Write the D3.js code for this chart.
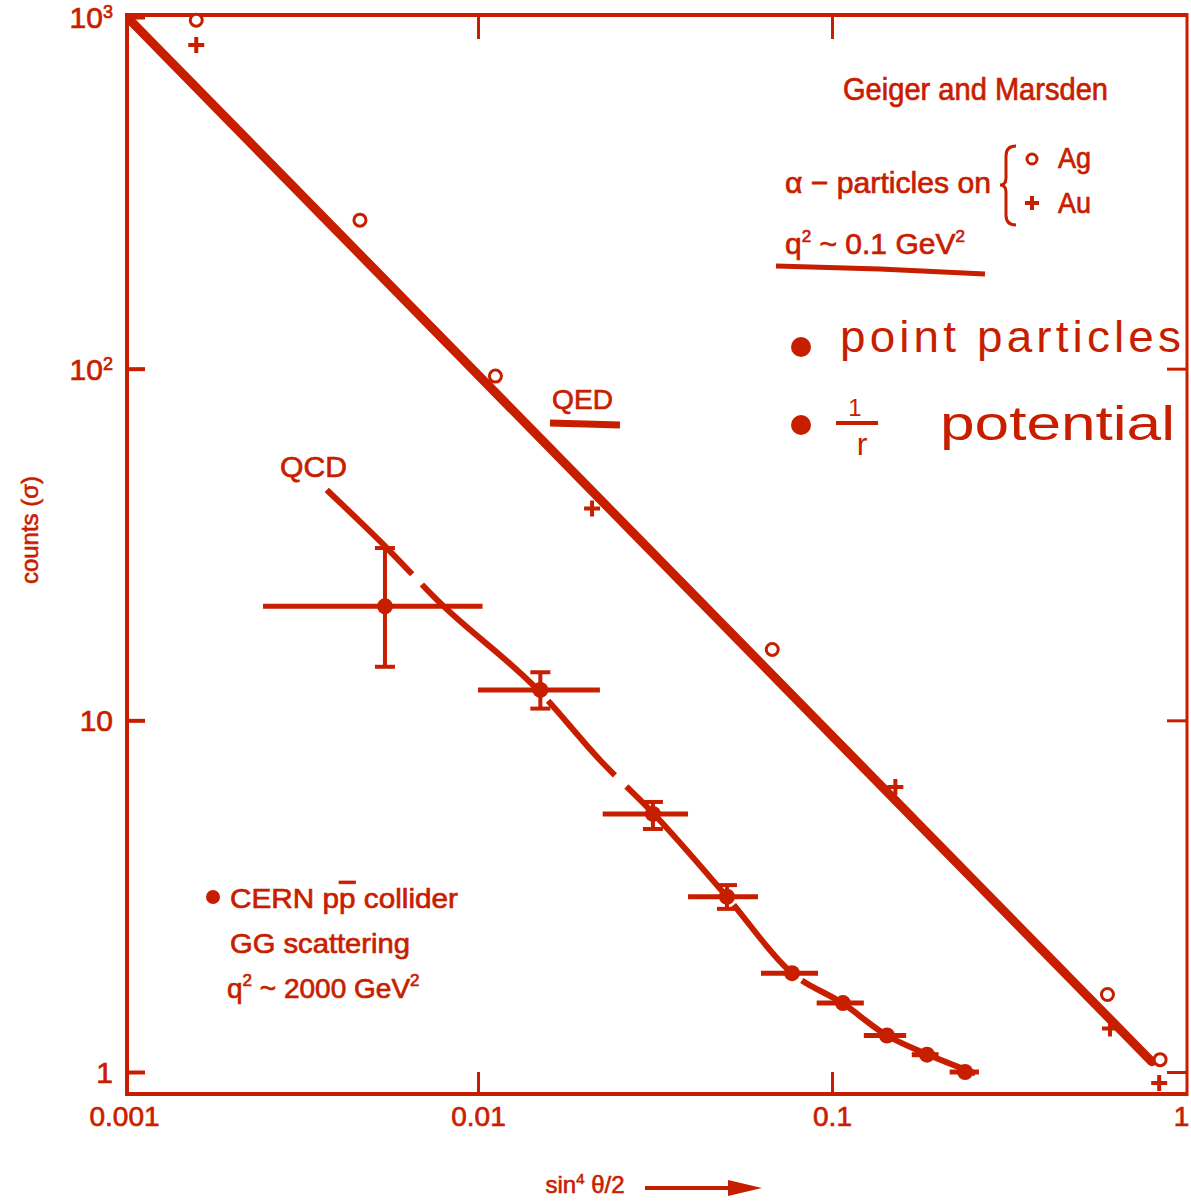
<!DOCTYPE html>
<html>
<head>
<meta charset="utf-8">
<script src="https://cdn.jsdelivr.net/npm/d3@7/dist/d3.min.js"></script>
<style>
  html, body { margin: 0; padding: 0; background: #fff; }
  svg { display: block; }
  text { font-family: "Liberation Sans", Arial, sans-serif; }
</style>
</head>
<body>
<svg id="chart" width="1191" height="1203"></svg>
<script>
// ---------------- data ----------------
const xTicks = [0.001, 0.01, 0.1, 1];
const xTickLabels = ["0.001", "0.01", "0.1", "1"];
const yTicks = [1, 10, 100, 1000];
const yTickBase = ["1", "10", "10", "10"];
const yTickExp = ["", "", "2", "3"];

// Rutherford (QED) line, Geiger & Marsden
const qedLineX = [0.00104, 0.8];
const qedLineY = [980, 1.07];
// alpha particles on Ag (open circles)
const agX = [0.0016, 0.00464, 0.0112, 0.0678, 0.60, 0.845];
const agY = [967, 261, 94, 15.7, 1.64, 1.07];
// alpha particles on Au (plus signs)
const auX = [0.0016, 0.021, 0.151, 0.61, 0.84];
const auY = [832, 40, 6.46, 1.33, 0.93];

// QCD curve
const qcdCurveX = [0.00374, 0.00553, 0.00766, 0.0150, 0.0221, 0.0312, 0.0505, 0.0771, 0.107, 0.143, 0.183, 0.254];
const qcdCurveY = [45.2, 30.9, 22.0, 12.0, 7.71, 5.45, 3.15, 1.91, 1.57, 1.27, 1.13, 0.99];

// CERN p pbar collider points (GG scattering)
const cernX   = [0.00546, 0.0150, 0.0312, 0.0505, 0.0771, 0.1074, 0.143, 0.1855, 0.2377];
const cernY   = [21.1, 12.2, 5.42, 3.15, 1.91, 1.57, 1.27, 1.12, 1.0];
const cernXlo = [0.00247, 0.0100, 0.0225, 0.0392, 0.063, 0.0905, 0.123, 0.168, 0.215];
const cernXhi = [0.0103, 0.0221, 0.0392, 0.0618, 0.0913, 0.123, 0.162, 0.200, 0.260];
const cernYlo = [14.2, 10.8, 4.91, 2.91, null, null, null, null, null];
const cernYhi = [30.9, 13.7, 5.86, 3.40, null, null, null, null, null];

// ---------------- drawing ----------------
const C = "#c81e00";
const svg = d3.select("#chart");
const x = d3.scaleLog().domain([0.001, 1]).range([124, 1186]);
const y = d3.scaleLog().domain([1, 1000]).range([1072, 17]);

const L = 127, R = 1187, T = 15, B = 1094;

// frame
svg.append("line").attr("x1", L).attr("x2", L).attr("y1", T - 2).attr("y2", B + 2).attr("stroke", C).attr("stroke-width", 4);
svg.append("line").attr("x1", L - 2).attr("x2", R).attr("y1", T).attr("y2", T).attr("stroke", C).attr("stroke-width", 4);
svg.append("line").attr("x1", R).attr("x2", R).attr("y1", T - 2).attr("y2", B + 2).attr("stroke", C).attr("stroke-width", 3);
svg.append("line").attr("x1", L - 2).attr("x2", R + 1).attr("y1", B).attr("y2", B).attr("stroke", C).attr("stroke-width", 4);

// left axis
const yAxis = d3.axisLeft(y).tickValues(yTicks).tickSize(-18).tickPadding(14).tickFormat(() => "");
const gy = svg.append("g").attr("transform", `translate(${L},0)`).call(yAxis);
gy.select(".domain").remove();
gy.selectAll(".tick line").attr("stroke", C).attr("stroke-width", 4);
gy.selectAll(".tick text").each(function(d, i) {
  const t = d3.select(this).attr("fill", C).attr("font-size", 30).attr("dy", "0.35em")
    .attr("stroke", C).attr("stroke-width", 0.7);
  t.append("tspan").text(yTickBase[i]);
  if (yTickExp[i]) t.append("tspan").attr("dy", "-0.55em").attr("font-size", 18).text(yTickExp[i]);
});
// right axis ticks
const yAxisR = d3.axisRight(y).tickValues(yTicks.slice(0, 3)).tickSize(-20).tickFormat(() => "");
const gyr = svg.append("g").attr("transform", `translate(${R},0)`).call(yAxisR);
gyr.select(".domain").remove();
gyr.selectAll(".tick line").attr("stroke", C).attr("stroke-width", 3);

// bottom axis
const xAxis = d3.axisBottom(x).tickValues(xTicks).tickSize(-22).tickPadding(12)
  .tickFormat((d, i) => xTickLabels[i]);
const gx = svg.append("g").attr("transform", `translate(0,${B})`).call(xAxis);
gx.select(".domain").remove();
gx.selectAll(".tick line").attr("stroke", C).attr("stroke-width", 3)
  .attr("opacity", (d) => (d === 0.001 || d === 1) ? 0 : 1);
gx.selectAll(".tick text").attr("fill", C).attr("font-size", 28)
  .attr("stroke", C).attr("stroke-width", 0.7)
  .attr("dx", (d) => d === 1 ? -5 : 0);
// top axis ticks
const xAxisT = d3.axisTop(x).tickValues([0.01, 0.1]).tickSize(-24).tickFormat(() => "");
const gxt = svg.append("g").attr("transform", `translate(0,${T})`).call(xAxisT);
gxt.select(".domain").remove();
gxt.selectAll(".tick line").attr("stroke", C).attr("stroke-width", 3);

// axis titles
svg.append("text").attr("x", 585).attr("y", 1193).attr("fill", C).attr("font-size", 24)
  .attr("stroke", C).attr("stroke-width", 0.6)
  .attr("text-anchor", "middle")
  .html('sin<tspan dy="-9" font-size="15">4</tspan><tspan dy="9"> θ/2</tspan>');
svg.append("line").attr("x1", 645).attr("x2", 740).attr("y1", 1188).attr("y2", 1188).attr("stroke", C).attr("stroke-width", 4);
svg.append("path").attr("d", "M728,1180 L762,1188 L728,1196 Z").attr("fill", C);

svg.append("text").attr("transform", "translate(38,530) rotate(-90)").attr("text-anchor", "middle")
  .attr("fill", C).attr("font-size", 24).attr("stroke", C).attr("stroke-width", 0.6).text("counts (σ)");

// QED line
const line = d3.line().x(d => x(d[0])).y(d => y(d[1]));
svg.append("path").datum(qedLineX.map((v, i) => [v, qedLineY[i]]))
  .attr("d", line).attr("fill", "none").attr("stroke", C).attr("stroke-width", 9).attr("stroke-linecap", "round");

// Ag circles
svg.append("g").selectAll("circle").data(agX.map((v, i) => [v, agY[i]])).join("circle")
  .attr("cx", d => x(d[0])).attr("cy", d => y(d[1]) - 2).attr("r", 6)
  .attr("fill", "#fff").attr("stroke", C).attr("stroke-width", 3);
// Au plus
svg.append("g").selectAll("path").data(auX.map((v, i) => [v, auY[i]])).join("path")
  .attr("d", d => { const cx = x(d[0]), cy = y(d[1]); return `M${cx - 8},${cy}H${cx + 8}M${cx},${cy - 8}V${cy + 8}`; })
  .attr("stroke", C).attr("stroke-width", 4).attr("fill", "none");

// QCD curve
const cline = d3.line().x(d => x(d[0])).y(d => y(d[1])).curve(d3.curveMonotoneX);
svg.append("path").datum(qcdCurveX.map((v, i) => [v, qcdCurveY[i]]))
  .attr("d", cline).attr("fill", "none").attr("stroke", C).attr("stroke-width", 6)
  .attr("stroke-dasharray", "120,14,160,12,100,16,150,10,90,12,200,10");

// CERN points with error bars
const cern = cernX.map((v, i) => ({ x: v, y: cernY[i], xl: cernXlo[i], xh: cernXhi[i], yl: cernYlo[i], yh: cernYhi[i] }));
const ge = svg.append("g");
ge.selectAll(".xe").data(cern).join("line").attr("class", "xe")
  .attr("x1", d => x(d.xl)).attr("x2", d => x(d.xh)).attr("y1", d => y(d.y)).attr("y2", d => y(d.y))
  .attr("stroke", C).attr("stroke-width", 5);
const withY = cern.filter(d => d.yl !== null);
ge.selectAll(".ye").data(withY).join("line").attr("class", "ye")
  .attr("x1", d => x(d.x)).attr("x2", d => x(d.x)).attr("y1", d => y(d.yl)).attr("y2", d => y(d.yh))
  .attr("stroke", C).attr("stroke-width", 4);
ge.selectAll(".capl").data(withY).join("line").attr("class", "capl")
  .attr("x1", d => x(d.x) - 10).attr("x2", d => x(d.x) + 10).attr("y1", d => y(d.yl)).attr("y2", d => y(d.yl))
  .attr("stroke", C).attr("stroke-width", 4);
ge.selectAll(".caph").data(withY).join("line").attr("class", "caph")
  .attr("x1", d => x(d.x) - 10).attr("x2", d => x(d.x) + 10).attr("y1", d => y(d.yh)).attr("y2", d => y(d.yh))
  .attr("stroke", C).attr("stroke-width", 4);
ge.selectAll("circle").data(cern).join("circle")
  .attr("cx", d => x(d.x)).attr("cy", d => y(d.y)).attr("r", 8).attr("fill", C);

// ---------------- annotations ----------------
function txt(xp, yp, s, size, len) {
  const t = svg.append("text").attr("x", xp).attr("y", yp).attr("fill", C).attr("font-size", size)
    .attr("stroke", C).attr("stroke-width", 0.7);
  if (len) t.attr("textLength", len).attr("lengthAdjust", "spacingAndGlyphs");
  t.html(s);
  return t;
}
txt(843, 100, "Geiger and Marsden", 31, 265);
txt(785, 193, "α − particles on", 30, 206);
// brace
svg.append("path").attr("d", "M1016,146 Q1006,146 1006,156 L1006,178 Q1006,185 1000,185 Q1006,185 1006,192 L1006,215 Q1006,225 1016,225")
  .attr("fill", "none").attr("stroke", C).attr("stroke-width", 3);
svg.append("circle").attr("cx", 1032).attr("cy", 159).attr("r", 5).attr("fill", "#fff").attr("stroke", C).attr("stroke-width", 3);
txt(1058, 168, "Ag", 29, 33);
svg.append("path").attr("d", "M1025,203H1039M1032,196V210").attr("stroke", C).attr("stroke-width", 4);
txt(1058, 213, "Au", 29, 33);
txt(785, 254, 'q<tspan dy="-12" font-size="17">2</tspan><tspan dy="12"> ~ 0.1 GeV</tspan><tspan dy="-12" font-size="17">2</tspan>', 30);
svg.append("path").attr("d", "M776,266 L880,269 L985,274").attr("fill", "none").attr("stroke", C).attr("stroke-width", 5);

// handwritten notes
svg.append("circle").attr("cx", 801).attr("cy", 347).attr("r", 10).attr("fill", C);
svg.append("text").attr("x", 840).attr("y", 352).attr("fill", C).attr("font-size", 44)
  .attr("font-family", "'DejaVu Sans', sans-serif").attr("textLength", 345).attr("lengthAdjust", "spacingAndGlyphs")
  .attr("letter-spacing", 4).text("point  particles");
svg.append("circle").attr("cx", 801).attr("cy", 425).attr("r", 10).attr("fill", C);
svg.append("text").attr("x", 855).attr("y", 416).attr("fill", C).attr("font-size", 24).attr("font-family", "'DejaVu Sans', sans-serif").attr("text-anchor", "middle").text("1");
svg.append("line").attr("x1", 836).attr("x2", 878).attr("y1", 423).attr("y2", 423).attr("stroke", C).attr("stroke-width", 4);
svg.append("text").attr("x", 862).attr("y", 455).attr("fill", C).attr("font-size", 32).attr("font-family", "'DejaVu Sans', sans-serif").attr("text-anchor", "middle").text("r");
svg.append("text").attr("x", 940).attr("y", 440).attr("fill", C).attr("font-size", 48)
  .attr("font-family", "'DejaVu Sans', sans-serif").attr("textLength", 235).attr("lengthAdjust", "spacingAndGlyphs")
  .text("potential");

// QED / QCD labels
txt(552, 409, "QED", 28, 61);
svg.append("line").attr("x1", 550).attr("x2", 620).attr("y1", 423).attr("y2", 425).attr("stroke", C).attr("stroke-width", 7);
txt(280, 477, "QCD", 30, 67);

// CERN legend
svg.append("circle").attr("cx", 213).attr("cy", 897).attr("r", 7).attr("fill", C);
txt(230, 908, 'CERN p<tspan style="text-decoration: overline">p</tspan> collider', 28, 228);
txt(230, 953, "GG scattering", 28, 180);
txt(227, 998, 'q<tspan dy="-12" font-size="17">2</tspan><tspan dy="12"> ~ 2000 GeV</tspan><tspan dy="-12" font-size="17">2</tspan>', 28);
</script>
</body>
</html>
